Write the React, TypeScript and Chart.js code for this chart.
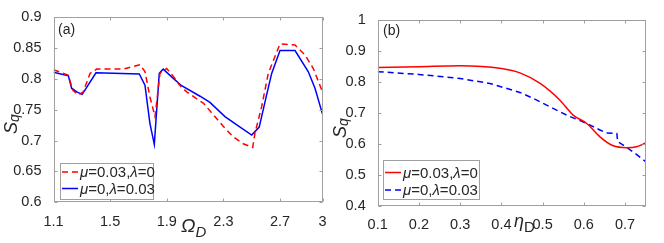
import React, { useEffect, useRef } from "react";
import { Chart, registerables } from "chart.js";
Chart.register(...registerables);

// ---- Panel (a) data ----
const omegaRedX = [1.1, 1.205, 1.236, 1.275, 1.31, 1.358, 1.405, 1.593, 1.711, 1.746, 1.781, 1.817, 1.852, 1.899, 1.958, 1.99, 2.041, 2.123, 2.158, 2.229, 2.3, 2.37, 2.44, 2.507, 2.523, 2.57, 2.617, 2.7, 2.806, 2.876, 2.935, 3.0];
const omegaRedY = [0.815, 0.806, 0.782, 0.774, 0.779, 0.809, 0.816, 0.816, 0.823, 0.812, 0.771, 0.739, 0.809, 0.817, 0.801, 0.79, 0.779, 0.766, 0.761, 0.742, 0.723, 0.706, 0.695, 0.689, 0.712, 0.755, 0.809, 0.857, 0.855, 0.839, 0.817, 0.779];
const omegaBlueX = [1.1, 1.205, 1.228, 1.264, 1.303, 1.4, 1.706, 1.746, 1.781, 1.812, 1.847, 1.875, 1.946, 2.005, 2.135, 2.205, 2.311, 2.405, 2.5, 2.553, 2.6, 2.641, 2.7, 2.806, 2.899, 2.947, 3.0];
const omegaBlueY = [0.811, 0.805, 0.785, 0.779, 0.775, 0.81, 0.808, 0.79, 0.728, 0.694, 0.809, 0.816, 0.801, 0.789, 0.772, 0.762, 0.739, 0.724, 0.709, 0.722, 0.769, 0.809, 0.846, 0.846, 0.812, 0.785, 0.743];
const omegaTicks = [1.1, 1.5, 1.9, 2.3, 2.7, 3];
const sqTicksA = [0.6, 0.65, 0.7, 0.75, 0.8, 0.85, 0.9];

// ---- Panel (b) data ----
const etaRedX = [0.1, 0.2, 0.3, 0.4, 0.445, 0.494, 0.542, 0.574, 0.607, 0.639, 0.671, 0.704, 0.728, 0.75];
const etaRedY = [0.845, 0.848, 0.851, 0.842, 0.828, 0.794, 0.74, 0.692, 0.665, 0.622, 0.593, 0.587, 0.59, 0.602];
const etaBlueX = [0.1, 0.2, 0.3, 0.372, 0.445, 0.477, 0.558, 0.607, 0.639, 0.655, 0.68, 0.682, 0.72, 0.75];
const etaBlueY = [0.832, 0.823, 0.81, 0.794, 0.765, 0.746, 0.692, 0.665, 0.644, 0.634, 0.633, 0.607, 0.573, 0.542];
const etaTicks = [0.1, 0.2, 0.3, 0.4, 0.5, 0.6, 0.7];
const sqTicksB = [0.4, 0.5, 0.6, 0.7, 0.8, 0.9, 1];

const labelRed = "μ=0.03,λ=0";
const labelBlue = "μ=0,λ=0.03";

const RED = "#ff0000";
const BLUE = "#0000ff";
const TXT = "#262626";
const FRAME = "#a0a0a0";
const FONT = "'Liberation Sans', Arial, sans-serif";

type Piece = { t: string; it?: boolean; sub?: boolean };

function drawPieces(ctx: CanvasRenderingContext2D, pieces: Piece[], x: number, y: number, size: number, subSize: number, subShift: number) {
  let cx = x;
  for (const p of pieces) {
    const fs = p.sub ? subSize : size;
    ctx.font = `${p.it ? "italic " : ""}${fs}px ${FONT}`;
    ctx.fillText(p.t, cx, p.sub ? y + subShift : y);
    cx += ctx.measureText(p.t).width;
  }
  return cx - x;
}

function greekPieces(s: string): Piece[] {
  const out: Piece[] = [];
  for (const ch of s) {
    const it = /[α-ωΑ-Ω]/.test(ch);
    const last = out[out.length - 1];
    if (last && !!last.it === it) last.t += ch;
    else out.push({ t: ch, it });
  }
  return out;
}

function makePlugin(cfg: any) {
  return {
    id: "decor",
    afterDraw(chart: any) {
      const { ctx, chartArea: a, scales } = chart;
      const L = Math.round(a.left) + 0.5, R = Math.round(a.right) - 0.5;
      const T = Math.round(a.top) + 0.5, B = Math.round(a.bottom) - 0.5;
      ctx.save();
      ctx.strokeStyle = FRAME;
      ctx.lineWidth = 1;
      ctx.setLineDash([]);
      ctx.strokeRect(L, T, R - L, B - T);
      const tl = 3;
      ctx.beginPath();
      for (const v of cfg.xTicks) {
        const px = Math.round(scales.x.getPixelForValue(v)) + 0.5;
        ctx.moveTo(px, B); ctx.lineTo(px, B - tl);
        ctx.moveTo(px, T); ctx.lineTo(px, T + tl);
      }
      for (const v of cfg.yTicks) {
        const py = Math.round(scales.y.getPixelForValue(v)) + 0.5;
        ctx.moveTo(L, py); ctx.lineTo(L + tl, py);
        ctx.moveTo(R, py); ctx.lineTo(R - tl, py);
      }
      ctx.stroke();

      // panel label
      ctx.fillStyle = TXT;
      ctx.textBaseline = "middle";
      ctx.textAlign = "left";
      ctx.font = `14px ${FONT}`;
      ctx.fillText(cfg.panel, cfg.panelX, cfg.panelY);

      // legend
      const lg = cfg.legend;
      ctx.fillStyle = "#ffffff";
      ctx.fillRect(lg.x, lg.y, lg.w, lg.h);
      ctx.strokeStyle = FRAME;
      ctx.strokeRect(lg.x + 0.5, lg.y + 0.5, lg.w - 1, lg.h - 1);
      chart.data.datasets.forEach((ds: any, i: number) => {
        const ry = lg.rows[i];
        ctx.strokeStyle = ds.borderColor;
        ctx.lineWidth = 1.5;
        ctx.setLineDash(ds.borderDash || []);
        ctx.beginPath();
        ctx.moveTo(lg.x + 2, ry);
        ctx.lineTo(lg.x + 2 + lg.sample, ry);
        ctx.stroke();
        ctx.setLineDash([]);
        ctx.fillStyle = TXT;
        ctx.textBaseline = "middle";
        drawPieces(ctx, greekPieces(ds.label), lg.x + 4 + lg.sample, ry + 1, 15, 15, 0);
      });

      // axis titles
      ctx.fillStyle = TXT;
      ctx.textBaseline = "alphabetic";
      const xt = cfg.xTitle;
      drawPieces(ctx, xt.pieces, xt.x, xt.y, xt.size, xt.subSize, xt.subShift);
      const yt = cfg.yTitle;
      ctx.translate(yt.x, yt.y);
      ctx.rotate(-Math.PI / 2);
      drawPieces(ctx, yt.pieces, 0, 0, yt.size, yt.subSize, yt.subShift);
      ctx.restore();
    },
  };
}

function buildConfig(opts: any): any {
  const ticksCb = (v: any) => String(+Number(v).toFixed(2));
  return {
    type: "line",
    data: { datasets: opts.datasets },
    options: {
      animation: false,
      responsive: false,
      maintainAspectRatio: false,
      layout: { padding: { left: 0, top: opts.top, right: opts.right, bottom: 0 } },
      plugins: { legend: { display: false }, tooltip: { enabled: false } },
      elements: { point: { radius: 0 }, line: { borderWidth: 1.5 } },
      scales: {
        x: {
          type: "linear",
          min: opts.xMin,
          max: opts.xMax,
          grid: { display: false },
          border: { display: false },
          afterBuildTicks: (s: any) => { s.ticks = opts.xTicks.map((v: number) => ({ value: v })); },
          afterFit: (s: any) => { s.height = opts.xH; },
          ticks: { color: TXT, font: { family: FONT, size: 14.5 }, padding: 3, maxRotation: 0, autoSkip: false, callback: ticksCb },
        },
        y: {
          type: "linear",
          min: opts.yMin,
          max: opts.yMax,
          grid: { display: false },
          border: { display: false },
          afterBuildTicks: (s: any) => { s.ticks = opts.yTicks.map((v: number) => ({ value: v })); },
          afterFit: (s: any) => { s.width = opts.yW; },
          ticks: { color: TXT, font: { family: FONT, size: 14.5 }, padding: 4, autoSkip: false, callback: ticksCb },
        },
      },
    },
    plugins: [makePlugin(opts.decor)],
  };
}

const pts = (xs: number[], ys: number[]) => xs.map((x, i) => ({ x, y: ys[i] }));

export default function App() {
  const refA = useRef<HTMLCanvasElement>(null);
  const refB = useRef<HTMLCanvasElement>(null);
  useEffect(() => {
    const a = new Chart(refA.current!, buildConfig({
      datasets: [
        { label: labelRed, data: pts(omegaRedX, omegaRedY), borderColor: RED, borderDash: [6, 4], borderWidth: 1.5, fill: false, tension: 0 },
        { label: labelBlue, data: pts(omegaBlueX, omegaBlueY), borderColor: BLUE, borderWidth: 1.5, fill: false, tension: 0 },
      ],
      xMin: 1.1, xMax: 3, yMin: 0.6, yMax: 0.9,
      xTicks: omegaTicks, yTicks: sqTicksA,
      top: 17.3, right: 340 - 322.5, xH: 243 - 202.3, yW: 53.5,
      decor: {
        xTicks: omegaTicks, yTicks: sqTicksA,
        panel: "(a)", panelX: 58, panelY: 30,
        legend: { x: 60, y: 163, w: 94, h: 37, rows: [172, 188.5], sample: 16 },
        xTitle: { pieces: [{ t: "Ω", it: true }, { t: "D", it: true, sub: true }], x: 181, y: 232, size: 19, subSize: 15, subShift: 5 },
        yTitle: { pieces: [{ t: "S", it: true }, { t: "q", it: true, sub: true }], x: 17, y: 134, size: 18, subSize: 14, subShift: 2 },
      },
    }));
    const b = new Chart(refB.current!, buildConfig({
      datasets: [
        { label: labelRed, data: pts(etaRedX, etaRedY), borderColor: RED, borderWidth: 1.5, fill: false, cubicInterpolationMode: "monotone" },
        { label: labelBlue, data: pts(etaBlueX, etaBlueY), borderColor: BLUE, borderDash: [6, 4], borderWidth: 1.5, fill: false, tension: 0 },
      ],
      xMin: 0.1, xMax: 0.75, yMin: 0.4, yMax: 1,
      xTicks: etaTicks, yTicks: sqTicksB,
      top: 19.5, right: 334 - 315.7, xH: 243 - 205.7, yW: 47.7,
      decor: {
        xTicks: etaTicks, yTicks: sqTicksB,
        panel: "(b)", panelX: 53, panelY: 31,
        legend: { x: 53, y: 160, w: 97, h: 40, rows: [172.5, 190], sample: 16 },
        xTitle: { pieces: [{ t: "η", it: true }, { t: "D", sub: true }], x: 184, y: 227, size: 18, subSize: 15, subShift: 5 },
        yTitle: { pieces: [{ t: "S", it: true }, { t: "q", it: true, sub: true }], x: 16, y: 138, size: 18, subSize: 14, subShift: 2 },
      },
    }));
    return () => { a.destroy(); b.destroy(); };
  }, []);
  return (
    <div style={{ position: "fixed", left: 0, top: 0, width: 664, height: 243, background: "#fff" }}>
      <canvas ref={refA} width={340} height={243} style={{ position: "absolute", left: 0, top: 0, width: 340, height: 243 }} />
      <canvas ref={refB} width={334} height={243} style={{ position: "absolute", left: 330, top: 0, width: 334, height: 243 }} />
    </div>
  );
}
